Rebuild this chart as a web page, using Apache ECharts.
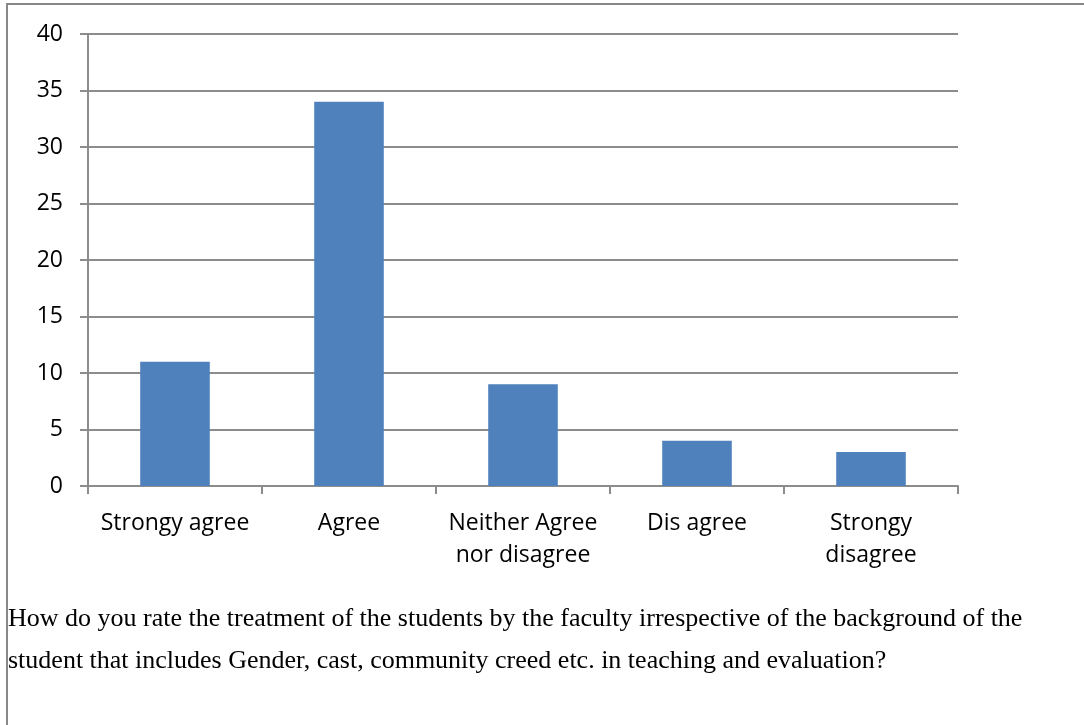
<!DOCTYPE html>
<html><head><meta charset="utf-8">
<script src="https://cdn.jsdelivr.net/npm/echarts@6/dist/echarts.min.js"></script>
<style>html,body{margin:0;padding:0;background:#fff}#c{width:1084px;height:725px}</style>
</head><body><div id="c"></div>
<script>
const categories = ['Strongy agree', 'Agree', 'Neither Agree\nnor disagree', 'Dis agree', 'Strongy\ndisagree'];
const values = [11, 34, 9, 4, 3];
const yTicks = [0, 5, 10, 15, 20, 25, 30, 35, 40];
const captionLines = [
  'How do you rate the treatment of the students by the faculty irrespective of the background of the',
  'student that includes Gender, cast, community creed etc. in teaching and evaluation?'
];
const chart = echarts.init(document.getElementById('c'), null, {renderer: 'canvas'});
const gridColor = '#8c8c8c';
chart.setOption({
  animation: false,
  backgroundColor: '#fff',
  grid: {left: 88, right: 126, top: 34, bottom: 239, containLabel: false},
  xAxis: {
    type: 'category',
    data: categories,
    axisLine: {show: true, lineStyle: {color: gridColor, width: 2}},
    axisTick: {show: true, length: 8, lineStyle: {color: gridColor, width: 2}},
    axisLabel: {color: '#000', fontFamily: 'Open Sans', fontSize: 23, margin: 21, lineHeight: 32, interval: 0}
  },
  yAxis: {
    type: 'value',
    min: yTicks[0], max: yTicks[yTicks.length - 1], interval: yTicks[1] - yTicks[0],
    axisLine: {show: true, lineStyle: {color: gridColor, width: 2}},
    axisTick: {show: true, length: 8, lineStyle: {color: gridColor, width: 2}},
    splitLine: {show: true, lineStyle: {color: gridColor, width: 2}},
    axisLabel: {color: '#000', fontFamily: 'Open Sans', fontSize: 23, margin: 25}
  },
  series: [{
    type: 'bar',
    data: values,
    barWidth: '40%',
    itemStyle: {color: '#4F81BD'}
  }],
  graphic: [
    {type: 'line', shape: {x1: 7, y1: 4, x2: 7, y2: 725}, style: {stroke: '#888', lineWidth: 2}},
    {type: 'line', shape: {x1: 6, y1: 4, x2: 1084, y2: 4}, style: {stroke: '#888', lineWidth: 2}},
    {type: 'text', x: 8, y: 598,
     style: {text: captionLines.join('\n'), font: '26px "Liberation Serif"', lineHeight: 42, fill: '#000', verticalAlign: 'top', align: 'left'}}
  ]
});
</script></body></html>
